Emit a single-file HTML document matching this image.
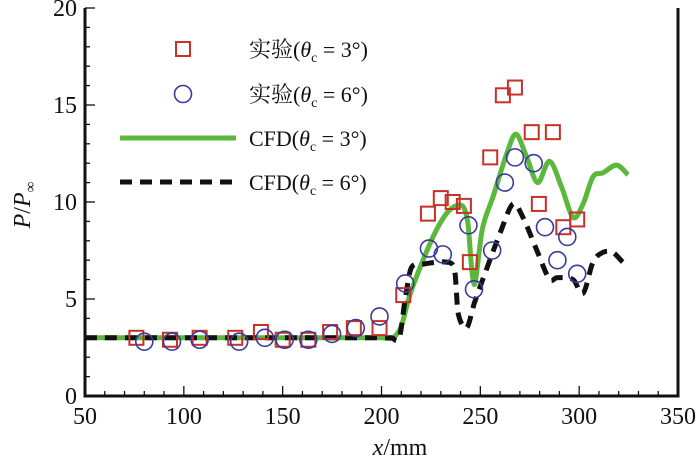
<!DOCTYPE html>
<html><head><meta charset="utf-8"><style>
body{margin:0;background:#fff}
svg text{font-family:"Liberation Serif","Noto Serif CJK SC","Noto Sans CJK SC",serif;fill:#111}
</style></head><body>
<svg id="c" width="700" height="461" viewBox="0 0 700 461"></svg>
<script>
const xTicks=[50,100,150,200,250,300,350];
const yTicks=[0,5,10,15,20];
const exp3X=[76,93,108,126,139,150,163,174,186,199,211,223.5,230,236,241.7,244.7,255,261.4,267.5,276,286.7,279.6,292,299];
const exp3Y=[3.0,2.9,3.0,3.0,3.3,2.9,2.9,3.3,3.5,3.5,5.2,9.4,10.2,10.0,9.8,6.9,12.3,15.5,15.9,13.6,13.6,9.9,8.7,9.1];
const exp6X=[80,94,108,128,141,151,163,175,187,199,212,224,231,244,246.8,256,262.4,267.5,277,282.7,294,289,299];
const exp6Y=[2.8,2.8,2.9,2.8,3.0,2.9,2.9,3.2,3.5,4.1,5.8,7.6,7.3,8.8,5.5,7.5,11.0,12.3,12.0,8.7,8.2,7.0,6.3];
const cfd3X=[50,150,195,200,205.8,210,214,221,228,234.6,241,243.7,245.7,247.3,251,256.5,263.4,268,273.5,279,285,291,297,302,307,312,319,324.7];
const cfd3Y=[3.0,3.0,3.0,3.0,3.0,3.6,5.1,7.0,8.6,9.6,9.8,8.9,6.5,5.8,8.6,10.3,12.5,13.5,12.3,11.0,12.1,10.8,9.2,9.9,11.3,11.5,11.9,11.4];
const cfd6X=[50,150,200,205,209,212,215,221,233,237,238.7,243,247,253,260,266.5,271.6,278.6,285,288.7,297,302,307,312,317,322];
const cfd6Y=[3.0,3.0,3.0,3.0,3.0,5.0,6.6,6.8,6.9,6.5,4.3,3.5,4.8,6.5,8.4,9.9,9.2,7.5,6.0,6.1,6.0,5.3,6.9,7.4,7.4,6.9];

const L=85,R=678,T=8,B=396;
const sx=v=>L+(v-50)/300*(R-L);
const sy=v=>B-v/20*(B-T);
const svg=document.getElementById('c');
const NS='http://www.w3.org/2000/svg';
function mk(tag,attrs,parent){const e=document.createElementNS(NS,tag);for(const k in attrs)e.setAttribute(k,attrs[k]);(parent||svg).appendChild(e);return e;}

for(let v=50;v<=350;v+=10){const major=v%50===0;const t=mk('line',{x1:sx(v),x2:sx(v),y1:B,y2:B-(major?10:5),stroke:'#111','stroke-width':1.3});

}
for(let v=0;v<=20;v+=1){const major=v%5===0;const t=mk('line',{x1:L,x2:L+(major?10:5),y1:sy(v),y2:sy(v),stroke:'#111','stroke-width':1.3});

}
xTicks.forEach(v=>{const t=mk('text',{x:sx(v),y:424,'text-anchor':'middle','font-size':24});t.textContent=v;

});
yTicks.forEach(v=>{const t=mk('text',{x:L-8,y:sy(v)+8,'text-anchor':'end','font-size':24});t.textContent=v;

});

function path(xs,ys){
  const p=xs.map((x,i)=>[sx(x),sy(ys[i])]);
  let d='M'+p[0][0].toFixed(1)+','+p[0][1].toFixed(1);
  for(let i=0;i<p.length-1;i++){
    const p0=p[i-1]||p[i],p1=p[i],p2=p[i+1],p3=p[i+2]||p2;
    const dx=p2[0]-p1[0];
    let t1=[(p2[0]-p0[0])/6,(p2[1]-p0[1])/6],t2=[(p3[0]-p1[0])/6,(p3[1]-p1[1])/6];
    // limit tangents to segment length to avoid overshoot
    const s1=Math.min(1,dx/3/Math.max(t1[0],1e-6)),s2=Math.min(1,dx/3/Math.max(t2[0],1e-6));
    t1=[t1[0]*s1,t1[1]*s1];t2=[t2[0]*s2,t2[1]*s2];
    const c1=[p1[0]+t1[0],p1[1]+t1[1]],c2=[p2[0]-t2[0],p2[1]-t2[1]];
    d+=` C${c1[0].toFixed(1)},${c1[1].toFixed(1)} ${c2[0].toFixed(1)},${c2[1].toFixed(1)} ${p2[0].toFixed(1)},${p2[1].toFixed(1)}`;
  }
  return d;
}
const g3=mk('path',{d:path(cfd3X,cfd3Y),fill:'none',stroke:'#5cb83c','stroke-width':5,'stroke-linejoin':'round'});


const g6=mk('path',{d:path(cfd6X,cfd6Y),fill:'none',stroke:'#111','stroke-width':5,'stroke-dasharray':'12,8'});



exp3X.forEach((x,i)=>{const r=mk('rect',{x:sx(x)-7,y:sy(exp3Y[i])-7,width:14,height:14,fill:'none',stroke:'#c8302a','stroke-width':2});

});
exp6X.forEach((x,i)=>{const c=mk('circle',{cx:sx(x),cy:sy(exp6Y[i]),r:8.5,fill:'none',stroke:'#3a3c9c','stroke-width':1.6});

});

const ax=mk('path',{d:`M${L},${T} L${L},${B} L${R},${B} L${R},${T}`,fill:'none',stroke:'#111','stroke-width':3});



const leg=mk('g',{});


const rows=[49,94,138,182];
const labels=['3','6','3','6'];
const pre=['实验(','实验(','CFD(','CFD('];
mk('rect',{x:176,y:42,width:14,height:14,fill:'none',stroke:'#c8302a','stroke-width':2},leg);
mk('circle',{cx:183,cy:94,r:8.5,fill:'none',stroke:'#3a3c9c','stroke-width':1.6},leg);
mk('line',{x1:120,x2:236,y1:138,y2:138,stroke:'#5cb83c','stroke-width':5},leg);
mk('line',{x1:120,x2:236,y1:182,y2:182,stroke:'#111','stroke-width':5,'stroke-dasharray':'12,8'},leg);
rows.forEach((y,i)=>{const t=mk('text',{x:249,y:y+8,'font-size':22},leg);
t.innerHTML=pre[i]+'<tspan font-style="italic">θ</tspan><tspan font-size="14" dy="5">c</tspan><tspan dy="-5"> = '+labels[i]+'°)</tspan>';

});

const xl=mk('text',{x:400,y:455,'text-anchor':'middle','font-size':24});
xl.innerHTML='<tspan font-style="italic">x</tspan>/mm';


const yl=mk('text',{x:0,y:0,'text-anchor':'middle','font-size':24,transform:'translate(30,205) rotate(-90)'});
yl.innerHTML='<tspan font-style="italic">P</tspan>/<tspan font-style="italic">P</tspan><tspan font-size="15" dy="5">∞</tspan>';


</script>
</body></html>
